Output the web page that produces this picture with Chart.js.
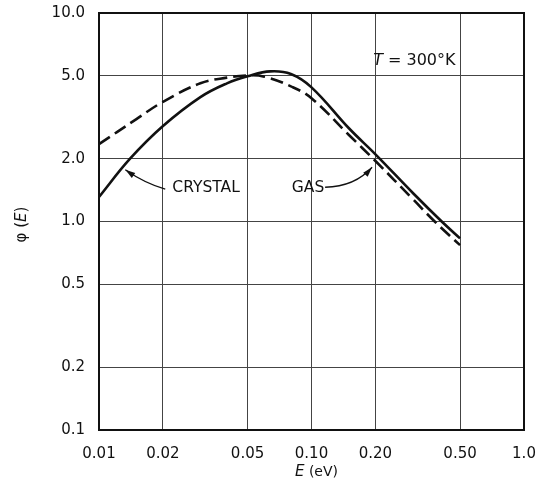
<!DOCTYPE html>
<html>
<head>
<meta charset="utf-8">
<script src="https://cdn.jsdelivr.net/npm/chart.js@4.4.1/dist/chart.umd.min.js"></script>
<style>
  html, body { margin: 0; padding: 0; background: #fff; }
  canvas { display: block; }
</style>
</head>
<body>
<canvas id="phi-chart" width="539" height="483"></canvas>
<script>
// values (log-log axes)
const crystalE   = [0.01, 0.014, 0.02, 0.03, 0.04, 0.05, 0.064, 0.08, 0.10, 0.15, 0.20, 0.30, 0.41, 0.50];
const crystalPhi = [1.31, 2.00, 2.87, 3.95, 4.60, 4.97, 5.25, 5.10, 4.40, 2.80, 2.10, 1.37, 1.00, 0.83];

const gasE   = [0.01, 0.015, 0.02, 0.03, 0.04, 0.05, 0.06, 0.08, 0.10, 0.15, 0.20, 0.30, 0.38, 0.50];
const gasPhi = [2.35, 3.10, 3.75, 4.60, 4.90, 5.02, 4.95, 4.45, 3.90, 2.60, 1.95, 1.28, 1.00, 0.77];

const xTicks = [0.01, 0.02, 0.05, 0.1, 0.2, 0.5, 1.0];
const xTickLabels = ['0.01', '0.02', '0.05', '0.10', '0.20', '0.50', '1.0'];
const yTicks = [0.1, 0.2, 0.5, 1, 2, 5, 10];
const yTickLabels = ['0.1', '0.2', '0.5', '1.0', '2.0', '5.0', '10.0'];

const FONT = 'DejaVu Sans';
Chart.defaults.font.family = FONT;
Chart.defaults.color = '#111';

function toPoints(xs, ys) {
    return xs.map((x, i) => ({ x: x, y: ys[i] }));
}

function drawArrow(ctx, tail, ctrl, tip) {
    ctx.beginPath();
    ctx.moveTo(tail.x, tail.y);
    ctx.quadraticCurveTo(ctrl.x, ctrl.y, tip.x, tip.y);
    ctx.lineWidth = 1.3;
    ctx.stroke();
    const ang = Math.atan2(tip.y - ctrl.y, tip.x - ctrl.x);
    const len = 10, half = 3;
    ctx.beginPath();
    ctx.moveTo(tip.x, tip.y);
    ctx.lineTo(tip.x - len * Math.cos(ang) + half * Math.sin(ang), tip.y - len * Math.sin(ang) - half * Math.cos(ang));
    ctx.lineTo(tip.x - len * Math.cos(ang) - half * Math.sin(ang), tip.y - len * Math.sin(ang) + half * Math.cos(ang));
    ctx.closePath();
    ctx.fill();
}

// frame, axis titles and the text labels inside the plot
const decorPlugin = {
    id: 'decor',
    afterDraw(chart) {
        const ctx = chart.ctx;
        const area = chart.chartArea;
        const xs = chart.scales.x, ys = chart.scales.y;
        const px = (x, y) => ({ x: xs.getPixelForValue(x), y: ys.getPixelForValue(y) });

        ctx.save();
        ctx.strokeStyle = '#111';
        ctx.fillStyle = '#111';
        ctx.lineWidth = 2;
        ctx.strokeRect(area.left, area.top, area.right - area.left, area.bottom - area.top);

        // x title: E (eV)
        ctx.textBaseline = 'middle';
        ctx.textAlign = 'left';
        ctx.font = 'italic 15px "' + FONT + '"';
        const eW = ctx.measureText('E').width;
        ctx.font = '14px "' + FONT + '"';
        const restW = ctx.measureText(' (eV)').width;
        let tx = (area.left + area.right) / 2 + 5 - (eW + restW) / 2;
        ctx.font = 'italic 15px "' + FONT + '"';
        ctx.fillText('E', tx, 472);
        ctx.font = '14px "' + FONT + '"';
        ctx.fillText(' (eV)', tx + eW, 472);

        // y title: phi(E), rotated
        ctx.save();
        ctx.translate(22, (area.top + area.bottom) / 2 + 3);
        ctx.rotate(-Math.PI / 2);
        ctx.font = '15px "' + FONT + '"';
        const p1 = 'φ (', p3 = ')';
        const w1 = ctx.measureText(p1).width, w3 = ctx.measureText(p3).width;
        ctx.font = 'italic 15px "' + FONT + '"';
        const w2 = ctx.measureText('E').width;
        let sx = -(w1 + w2 + w3) / 2;
        ctx.font = '15px "' + FONT + '"';
        ctx.fillText(p1, sx, 0);
        ctx.font = 'italic 15px "' + FONT + '"';
        ctx.fillText('E', sx + w1, 0);
        ctx.font = '15px "' + FONT + '"';
        ctx.fillText(p3, sx + w1 + w2, 0);
        ctx.restore();

        // T = 300 K
        const tPos = px(0.195, 5.9);
        ctx.font = 'italic 16px "' + FONT + '"';
        ctx.fillText('T', tPos.x, tPos.y);
        const tW = ctx.measureText('T').width;
        ctx.font = '16px "' + FONT + '"';
        ctx.fillText(' = 300°K', tPos.x + tW, tPos.y);

        // CRYSTAL label and arrow
        ctx.font = '15.5px "' + FONT + '"';
        ctx.textAlign = 'center';
        const cPos = px(0.0319, 1.45);
        ctx.fillText('CRYSTAL', cPos.x, cPos.y);
        drawArrow(ctx, px(0.0205, 1.43), px(0.0165, 1.52), px(0.0133, 1.77));

        // GAS label and arrow
        const gPos = px(0.0963, 1.45);
        ctx.fillText('GAS', gPos.x, gPos.y);
        drawArrow(ctx, px(0.1159, 1.46), px(0.160, 1.47), px(0.1928, 1.82));

        ctx.restore();
    }
};

new Chart(document.getElementById('phi-chart'), {
    type: 'line',
    data: {
        datasets: [{
            label: 'CRYSTAL',
            data: toPoints(crystalE, crystalPhi),
            borderColor: '#111',
            borderWidth: 2.6,
            pointRadius: 0,
            tension: 0.4,
            fill: false
        }, {
            label: 'GAS',
            data: toPoints(gasE, gasPhi),
            borderColor: '#111',
            borderWidth: 2.6,
            borderDash: [13, 6],
            pointRadius: 0,
            tension: 0.4,
            fill: false
        }]
    },
    options: {
        responsive: false,
        animation: false,
        devicePixelRatio: 1,
        layout: { autoPadding: false, padding: { top: 13, right: 15, left: 0, bottom: 0 } },
        plugins: {
            legend: { display: false },
            tooltip: { enabled: false }
        },
        scales: {
            x: {
                type: 'logarithmic',
                min: 0.01,
                max: 1.0,
                afterBuildTicks: scale => { scale.ticks = xTicks.map(v => ({ value: v })); },
                afterFit: scale => {
                    scale.height = 53;
                    scale.paddingLeft = 0;
                    scale.paddingRight = 0;
                },
                ticks: {
                    autoSkip: false,
                    maxRotation: 0,
                    padding: 15,
                    font: { size: 15 },
                    callback: (value, index) => xTickLabels[index]
                },
                grid: { color: '#444', lineWidth: 1, drawTicks: false },
                border: { display: true, color: '#111', width: 2 }
            },
            y: {
                type: 'logarithmic',
                min: 0.1,
                max: 10,
                afterBuildTicks: scale => { scale.ticks = yTicks.map(v => ({ value: v })); },
                afterFit: scale => {
                    scale.width = 99;
                    scale.paddingTop = 0;
                    scale.paddingBottom = 0;
                },
                ticks: {
                    autoSkip: false,
                    padding: 14,
                    font: { size: 15 },
                    callback: (value, index) => yTickLabels[index]
                },
                grid: { color: '#444', lineWidth: 1, drawTicks: false },
                border: { display: true, color: '#111', width: 2 }
            }
        }
    },
    plugins: [decorPlugin]
});
</script>
</body>
</html>
